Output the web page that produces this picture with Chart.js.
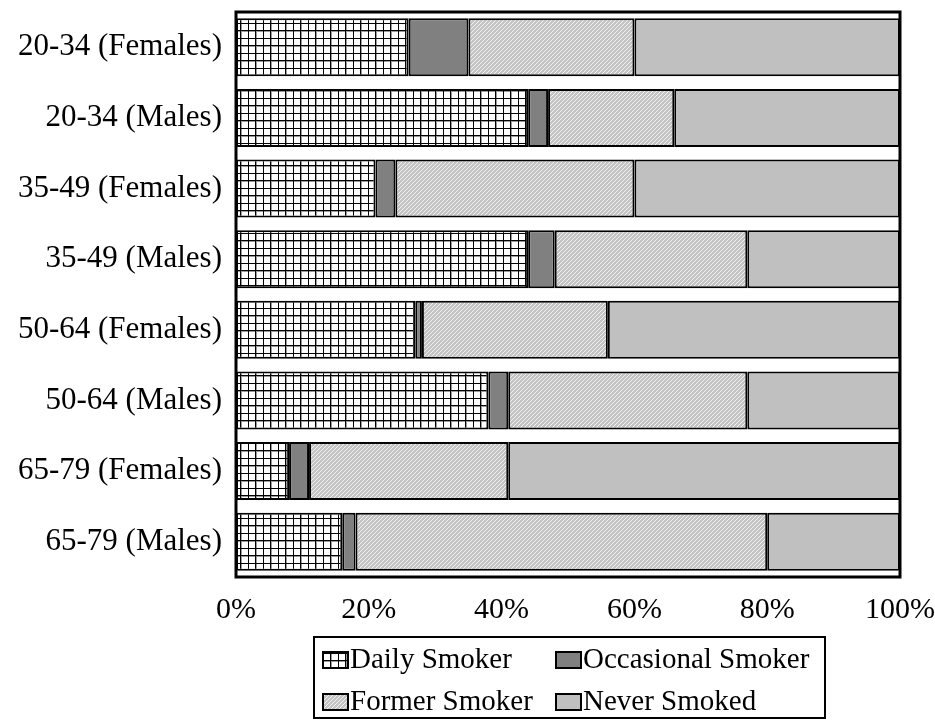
<!DOCTYPE html>
<html><head><meta charset="utf-8">
<script src="https://cdn.jsdelivr.net/npm/chart.js@4"></script>
<style>html,body{margin:0;padding:0;background:#fff}</style>
</head><body>
<canvas id="c" width="935" height="724" style="display:block"></canvas>
<script>
const categories = ['20-34 (Females)','20-34 (Males)','35-49 (Females)','35-49 (Males)','50-64 (Females)','50-64 (Males)','65-79 (Females)','65-79 (Males)'];
const seriesNames = ['Daily Smoker','Occasional Smoker','Former Smoker','Never Smoked'];
const daily      = [26, 44, 21, 44, 27, 38,  8, 16];
const occasional = [ 9,  3,  3,  4,  1,  3,  3,  2];
const former     = [25, 19, 36, 29, 28, 36, 30, 62];
const never      = [40, 34, 40, 23, 44, 23, 59, 20];
const xTicks = [0, 20, 40, 60, 80, 100];

const FONT = '"Liberation Serif", "Times New Roman", serif';

function gridPattern(){
  const c=document.createElement('canvas'); c.width=15; c.height=15;
  const g=c.getContext('2d');
  g.fillStyle='#fff'; g.fillRect(0,0,15,15);
  g.fillStyle='#9a9a9a'; g.fillRect(1,0,1,15); g.fillRect(0,1,15,1);
  g.fillStyle='#000'; g.fillRect(0,0,1,15); g.fillRect(8,0,1,15); g.fillRect(0,0,15,1); g.fillRect(0,8,15,1);
  return g.createPattern(c,'repeat');
}
function diagPattern(){
  const c=document.createElement('canvas'); c.width=4; c.height=4;
  const g=c.getContext('2d');
  g.fillStyle='#c4c4c4'; g.fillRect(0,0,4,4);
  g.fillStyle='#f2f2f2';
  g.fillRect(3,0,1,1); g.fillRect(2,1,1,1); g.fillRect(1,2,1,1); g.fillRect(0,3,1,1);
  return g.createPattern(c,'repeat');
}
const ctx0 = document.getElementById('c').getContext('2d');
const fills = [gridPattern(), '#808080', diagPattern(), '#c0c0c0'];
const seriesData = [daily, occasional, former, never];

const framePlugin = {
  id:'frame',
  afterDatasetsDraw(chart){
    const {ctx, chartArea:a} = chart;
    ctx.save(); ctx.strokeStyle='#000'; ctx.lineWidth=3;
    ctx.strokeRect(a.left, a.top, a.right-a.left, a.bottom-a.top);
    ctx.restore();
  },
  afterDraw(chart){
    const ctx = chart.ctx;
    ctx.save();
    ctx.strokeStyle='#000'; ctx.lineWidth=2;
    ctx.strokeRect(314, 637, 511, 81);
    const cols=[322, 555], rows=[651, 693];
    ctx.font = '29px ' + FONT;
    ctx.textBaseline='alphabetic'; ctx.textAlign='left';
    chart.data.datasets.forEach((ds,i)=>{
      const x=cols[i%2], y=rows[Math.floor(i/2)];
      ctx.fillStyle=ds.backgroundColor; ctx.fillRect(x,y,27,18);
      ctx.lineWidth=2; ctx.strokeStyle='#000'; ctx.strokeRect(x+1,y+1,25,16);
      ctx.fillStyle='#000'; ctx.fillText(ds.label, x+28, y+17);
    });
    ctx.restore();
  }
};

new Chart(ctx0, {
  type:'bar',
  data:{
    labels: categories,
    datasets: seriesNames.map((n,i)=>({
      label:n, data:seriesData[i], backgroundColor:fills[i],
      borderColor:'#000', borderWidth:2, borderSkipped:false,
      barPercentage:0.82, categoryPercentage:1
    }))
  },
  options:{
    indexAxis:'y', responsive:false, animation:false, devicePixelRatio:1,
    layout:{padding:{left:0,right:35,top:12,bottom:87}},
    plugins:{legend:{display:false}, tooltip:{enabled:false}},
    scales:{
      x:{stacked:true, min:0, max:100,
        afterBuildTicks(s){ s.ticks = xTicks.map(v=>({value:v})); },
        afterFit(s){ s.height=60; s.paddingLeft=0; s.paddingRight=0; },
        grid:{display:false, drawTicks:false}, border:{display:false},
        ticks:{padding:15, color:'#000', font:{family:FONT, size:30}, callback:v=>v+'%', maxRotation:0}
      },
      y:{stacked:true,
        afterFit(s){ s.width=236; s.paddingTop=0; s.paddingBottom=0; },
        grid:{display:false, drawTicks:false}, border:{display:false},
        ticks:{padding:14, color:'#000', font:{family:FONT, size:31}}
      }
    }
  },
  plugins:[framePlugin]
});
</script>
</body></html>
